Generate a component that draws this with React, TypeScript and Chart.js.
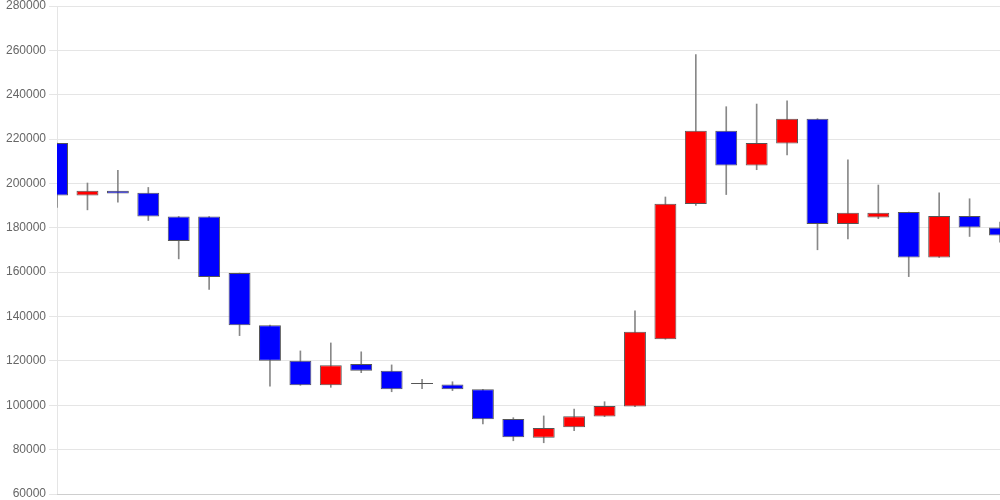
import React, { useEffect, useRef } from "react";
import { Chart, registerables } from "chart.js";

Chart.register(...registerables);

const labels: string[] = Array.from({ length: 32 }, (_, i) => String(i + 1));

const opens: number[] = [
  218200, 194600, 196700, 195800, 185100, 185100, 159600, 136100,
  120100, 109000, 118600, 115600, 109700, 109400, 107200, 93800,
  85400, 90100, 94900, 99400, 129800, 190700, 223800, 208100,
  218000, 229200, 181700, 184700, 187100, 166600, 185300, 180100,
];
const closes: number[] = [
  194600, 196700, 195500, 185100, 174100, 157800, 136100, 120100,
  109000, 118000, 115600, 107200, 109600, 107200, 93700, 85600,
  89800, 95000, 99700, 133100, 190800, 223800, 208100, 218200,
  229200, 181700, 186800, 186800, 166600, 185300, 180100, 176500,
];
const highs: number[] = [
  218200, 200200, 205900, 198200, 185100, 185100, 159600, 136100,
  124500, 128100, 124100, 118200, 111700, 110600, 107200, 94400,
  95200, 98300, 101600, 142600, 193900, 258100, 234600, 235800,
  237300, 229200, 210700, 199300, 187100, 195800, 193100, 182600,
];
const lows: number[] = [
  189200, 188100, 191600, 183300, 166000, 152200, 131400, 108600,
  109000, 108100, 114700, 106100, 107500, 106600, 91600, 84000,
  83100, 88500, 94900, 99400, 129800, 190100, 195000, 206200,
  212900, 170100, 175000, 184100, 158000, 166600, 176100, 173500,
];

const UP_COLOR = "#ff0000";
const DOWN_COLOR = "#0000ff";

export default function App() {
  const canvasRef = useRef<HTMLCanvasElement | null>(null);

  useEffect(() => {
    if (!canvasRef.current) return;
    const chart = new Chart(canvasRef.current, {
      type: "bar",
      data: {
        labels,
        datasets: [
          {
            label: "body",
            data: opens.map((o, i) => [o, closes[i]]) as any,
            backgroundColor: opens.map((o, i) => (closes[i] >= o ? UP_COLOR : DOWN_COLOR)),
            borderColor: "#555555",
            borderWidth: 1,
            borderSkipped: false,
            grouped: false,
            minBarLength: 1,
            order: 0,
          } as any,
          {
            label: "wick",
            data: lows.map((l, i) => [l, highs[i]]) as any,
            backgroundColor: "#888888",
            barThickness: 1,
            grouped: false,
            order: 1,
          } as any,
        ],
      },
      options: {
        animation: false,
        responsive: true,
        maintainAspectRatio: false,
        layout: {
          padding: { top: 0, bottom: 0, left: 3, right: 0 },
        },
        plugins: {
          legend: { display: false },
          tooltip: { enabled: false },
        },
        scales: {
          x: {
            offset: false,
            grid: { display: false, drawTicks: false },
            ticks: { display: false },
          },
          y: {
            min: 60000,
            max: 280000,
            ticks: {
              stepSize: 20000,
              color: "#666",
              font: { family: "Arial, 'Liberation Sans', sans-serif", size: 12, lineHeight: 0.5 },
              callback: (v: any) => String(v),
            },
            grid: { color: "rgba(0,0,0,0.1)" },
          },
        },
      },
    });
    return () => chart.destroy();
  }, []);

  return (
    <div style={{ position: "absolute", left: 0, top: 0, width: 1000, height: 500 }}>
      <canvas ref={canvasRef} />
    </div>
  );
}
